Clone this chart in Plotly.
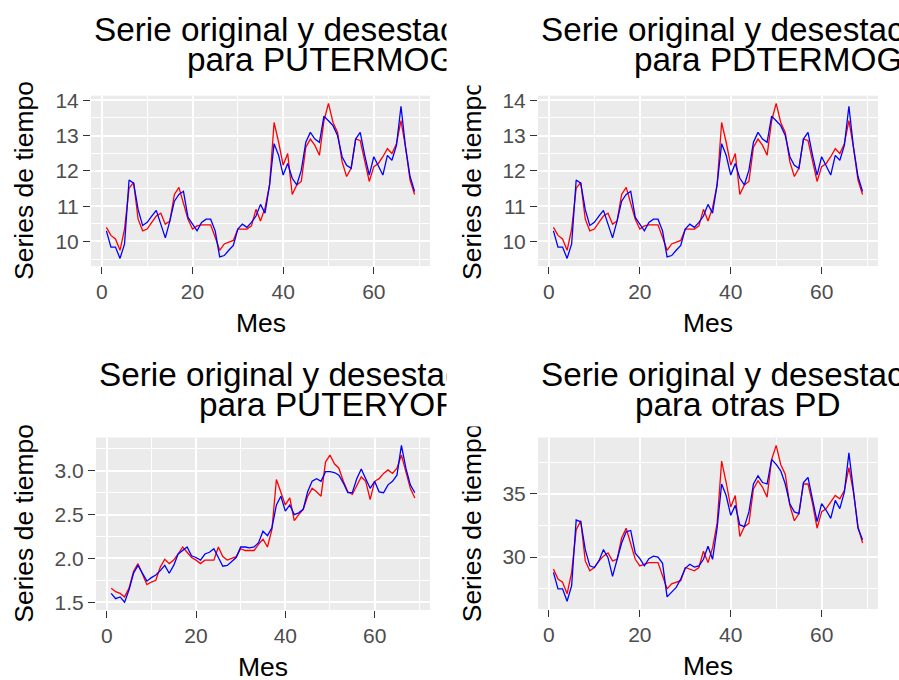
import plotly.graph_objects as go

W, H = 899, 680
FONT = "Liberation Sans, Arial, sans-serif"

mes = list(range(1, 70))

# PUTERMOG: original and seasonally adjusted series
putermog_original = [
    10.40, 10.17, 10.07, 9.75, 10.35, 11.51, 11.67, 10.63, 10.30, 10.35,
    10.54, 10.72, 10.80, 10.49, 10.58, 11.33, 11.53, 11.10, 10.63, 10.35,
    10.44, 10.47, 10.47, 10.47, 10.12, 9.75, 9.93, 9.98, 10.03, 10.35,
    10.35, 10.35, 10.44, 10.91, 10.58, 10.95, 11.60, 13.37, 12.81, 12.16,
    12.49, 11.33, 11.60, 11.70, 12.67, 12.90, 12.72, 12.44, 13.42, 13.91,
    13.37, 13.09, 12.26, 11.84, 12.07, 12.90, 12.86, 12.26, 11.70, 12.12,
    12.21, 12.40, 12.63, 12.49, 12.77, 13.42, 12.67, 11.74, 11.33,
]
putermog_desest = [
    10.30, 9.84, 9.84, 9.52, 9.93, 11.74, 11.65, 10.90, 10.45, 10.54,
    10.72, 10.88, 10.49, 10.10, 10.58, 11.14, 11.33, 11.42, 10.68, 10.49,
    10.30, 10.54, 10.63, 10.63, 10.30, 9.56, 9.60, 9.75, 9.89, 10.35,
    10.49, 10.40, 10.54, 10.72, 11.05, 10.80, 11.60, 12.77, 12.44, 11.88,
    12.21, 11.79, 11.60, 12.02, 12.81, 13.09, 12.90, 12.81, 13.55, 13.42,
    13.28, 13.00, 12.40, 12.16, 12.07, 12.90, 13.09, 12.44, 11.88, 12.40,
    12.16, 11.88, 12.44, 12.30, 12.72, 13.83, 12.67, 11.84, 11.42,
]

# PDTERMOG: the two series coincide with PUTERMOG
pdtermog_original = list(putermog_original)
pdtermog_desest = list(putermog_desest)

# PUTERYOF
puteryof_original = [
    1.66, 1.62, 1.60, 1.56, 1.66, 1.85, 1.94, 1.83, 1.70, 1.73,
    1.75, 1.90, 1.99, 1.94, 1.98, 2.05, 2.13, 2.07, 2.01, 1.98,
    1.94, 1.98, 1.98, 1.98, 2.13, 2.02, 1.98, 2.00, 2.02, 2.11,
    2.09, 2.09, 2.09, 2.16, 2.22, 2.13, 2.33, 2.90, 2.75, 2.61,
    2.69, 2.43, 2.50, 2.56, 2.71, 2.80, 2.76, 2.71, 3.10, 3.18,
    3.08, 3.03, 2.88, 2.76, 2.73, 2.84, 2.93, 2.88, 2.67, 2.88,
    2.91, 2.97, 3.01, 2.97, 3.03, 3.18, 2.99, 2.80, 2.69,
]
puteryof_desest = [
    1.60, 1.54, 1.56, 1.50, 1.64, 1.83, 1.92, 1.83, 1.74, 1.78,
    1.81, 1.86, 1.92, 1.83, 1.92, 2.05, 2.09, 2.13, 2.03, 2.01,
    1.98, 2.05, 2.07, 2.11, 2.01, 1.91, 1.92, 1.96, 2.01, 2.13,
    2.13, 2.12, 2.13, 2.18, 2.31, 2.26, 2.35, 2.61, 2.71, 2.54,
    2.61, 2.50, 2.52, 2.56, 2.76, 2.88, 2.91, 2.88, 2.99, 2.99,
    2.98, 2.95, 2.86, 2.75, 2.75, 2.91, 3.02, 2.91, 2.80, 2.88,
    2.76, 2.75, 2.84, 2.88, 2.95, 3.29, 3.03, 2.84, 2.75,
]

# Otras PD
otras_original = [
    29.04, 28.26, 28.00, 27.09, 28.78, 32.15, 32.87, 29.69, 28.91, 29.17,
    29.69, 30.07, 30.33, 29.69, 29.82, 31.50, 32.28, 31.11, 29.82, 29.30,
    29.43, 29.56, 29.56, 29.56, 28.52, 27.48, 27.87, 28.00, 28.13, 29.17,
    29.04, 28.91, 29.17, 30.46, 29.56, 30.72, 32.67, 37.59, 35.90, 33.96,
    34.87, 31.63, 32.40, 32.67, 35.39, 36.04, 35.52, 34.74, 37.72, 38.84,
    37.33, 36.56, 34.09, 32.87, 33.44, 35.78, 35.78, 34.22, 32.28, 33.57,
    33.83, 34.35, 34.87, 34.61, 35.26, 37.07, 35.13, 32.41, 31.11,
]
otras_desest = [
    28.78, 27.48, 27.48, 26.50, 27.74, 32.93, 32.80, 30.59, 29.30, 29.17,
    29.69, 30.59, 29.95, 28.47, 29.80, 31.11, 32.00, 32.10, 30.30, 29.87,
    29.30, 29.87, 30.07, 30.00, 29.50, 26.84, 27.22, 27.60, 28.26, 29.10,
    29.43, 29.20, 29.30, 29.82, 30.85, 29.82, 32.28, 35.78, 34.87, 33.30,
    34.09, 32.54, 32.40, 33.57, 35.78, 36.43, 35.90, 35.78, 37.72, 37.33,
    36.82, 35.78, 34.22, 33.57, 33.44, 35.90, 36.30, 34.48, 32.80, 34.22,
    33.70, 33.06, 34.48, 33.83, 35.13, 38.24, 35.13, 32.28, 31.37,
]

titulo = "Serie original y desestacionalizada"
subtitulos = ["para PUTERMOG", "para PDTERMOG", "para PUTERYOF", "para otras PD"]
x_ticks = [0, 20, 40, 60]

paneles = [
    dict(orig=putermog_original, des=putermog_desest, dtick=1, fmt="d",
         box=(91, 430, 90, 263), sub_x=185),
    dict(orig=pdtermog_original, des=pdtermog_desest, dtick=1, fmt="d",
         box=(538, 878, 90, 263), sub_x=632),
    dict(orig=puteryof_original, des=puteryof_desest, dtick=0.5, fmt=".1f",
         box=(96, 430, 437, 612), sub_x=197),
    dict(orig=otras_original, des=otras_desest, dtick=5, fmt="d",
         box=(538, 878, 437, 611), sub_x=633),
]


def px(x):
    return x / W


def py(y):
    return 1 - y / H


fig = go.Figure()
annotations = []

for i, p in enumerate(paneles):
    sfx = "" if i == 0 else str(i + 1)
    xa, ya = "x" + sfx, "y" + sfx
    x0, x1, y0, y1 = p["box"]
    izquierda = x0 < 300

    fig.add_trace(go.Scatter(x=mes, y=p["orig"], mode="lines", xaxis=xa, yaxis=ya,
                             line=dict(color="#FF0000", width=1.3), showlegend=False))
    fig.add_trace(go.Scatter(x=mes, y=p["des"], mode="lines", xaxis=xa, yaxis=ya,
                             line=dict(color="#0000FF", width=1.3), showlegend=False))

    lo = min(min(p["orig"]), min(p["des"]))
    hi = max(max(p["orig"]), max(p["des"]))
    pad = 0.05 * (hi - lo)
    xpad = 0.05 * (mes[-1] - mes[0])

    common = dict(
        ticks="outside", ticklen=7, tickwidth=1.1, tickcolor="#333333",
        tickfont=dict(family=FONT, size=21, color="#4D4D4D"),
        showgrid=True, gridcolor="white", gridwidth=1.7, zeroline=False,
        showline=False,
    )
    fig.layout["xaxis" + sfx] = dict(
        common, domain=[px(x0), px(x1)], anchor=ya,
        range=[mes[0] - xpad, mes[-1] + xpad],
        tickmode="array", tickvals=x_ticks,
        minor=dict(dtick=10, tick0=0, showgrid=True, gridcolor="white", gridwidth=0.8),
    )
    fig.layout["yaxis" + sfx] = dict(
        common, domain=[py(y1), py(y0)], anchor=xa,
        range=[lo - pad, hi + pad],
        tick0=0, dtick=p["dtick"], tickformat=p["fmt"],
        minor=dict(dtick=p["dtick"] / 2, tick0=0, showgrid=True,
                   gridcolor="white", gridwidth=0.8),
    )

    # axis titles
    annotations.append(dict(text="Mes", x=px((x0 + x1) / 2), y=py(y1 + 58),
                            xref="paper", yref="paper", showarrow=False,
                            xanchor="center", yanchor="middle",
                            font=dict(family=FONT, size=26.5, color="black")))
    ytx = 24 if izquierda else 472
    annotations.append(dict(text="Series de tiempo", x=px(ytx), y=py((y0 + y1) / 2),
                            xref="paper", yref="paper", showarrow=False, textangle=-90,
                            xanchor="center", yanchor="middle",
                            font=dict(family=FONT, size=26.5, color="black")))

    # panel title, two lines; in the left column the rest of the long
    # first line falls outside the cell and is cut off
    linea1 = titulo[:27] if izquierda else titulo
    top = 23 if y0 < 300 else 372.5
    annotations.append(dict(text=linea1, x=px(x0 + 1), y=py(top),
                            xref="paper", yref="paper", showarrow=False,
                            xanchor="left", yanchor="middle",
                            font=dict(family=FONT, size=33.3, color="black")))
    annotations.append(dict(text=subtitulos[i], x=px(p["sub_x"]), y=py(top + 30.5),
                            xref="paper", yref="paper", showarrow=False,
                            xanchor="left", yanchor="middle",
                            font=dict(family=FONT, size=33.3, color="black")))

# edge of the left column cells
for yt, yb in [(0, 77), (342, 423)]:
    annotations.append(dict(text=" ", x=px(446), y=py(yt), xref="paper", yref="paper",
                            showarrow=False, xanchor="left", yanchor="top",
                            width=91, height=yb - yt, bgcolor="white", borderpad=0,
                            font=dict(size=4)))

fig.update_layout(
    width=W, height=H, margin=dict(l=0, r=0, t=0, b=0),
    paper_bgcolor="white", plot_bgcolor="#EBEBEB",
    annotations=annotations,
)

fig.write_html("out.html")
